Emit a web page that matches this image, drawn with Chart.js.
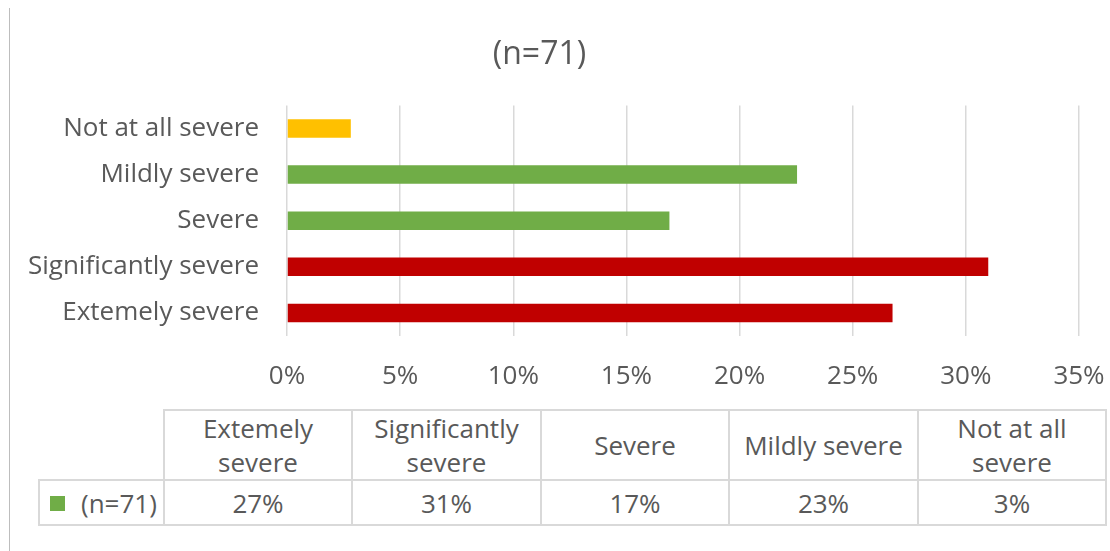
<!DOCTYPE html>
<html>
<head>
<meta charset="utf-8">
<script src="https://cdn.jsdelivr.net/npm/chart.js@4.4.1/dist/chart.umd.min.js"></script>
<style>
  html, body { margin: 0; padding: 0; background: #ffffff; }
  #wrap { position: relative; width: 1110px; height: 551px; overflow: hidden; background: #fff;
          font-family: 'Segoe UI', 'Open Sans', sans-serif; color: #595959; }
  #frame { position: absolute; left: 9px; top: 8px; width: 1px; height: 543px; background: #bdbdbd; }
  #chartBox { position: absolute; left: 0; top: 0; width: 1110px; height: 400px; }
  #tbl { position: absolute; left: 38px; top: 409px; border-collapse: collapse; table-layout: fixed;
         font-size: 26px; color: #595959; }
  #tbl td { border: 2px solid #d9d9d9; text-align: center; vertical-align: middle; padding: 0 4px;
            line-height: 34px; }
  #tbl tr.head td { height: 68px; }
  #tbl tr.data td { height: 43px; }
  #tbl td.corner { border-top: none; border-left: none; }
  #tbl td.legend { text-align: left; padding-left: 10px; white-space: nowrap; }
  .sw { display: inline-block; width: 15px; height: 15px; background: #70AD47; margin-right: 16px;
        vertical-align: middle; position: relative; top: -2px; }
</style>
</head>
<body>
<div id="wrap">
  <div id="frame"></div>
  <div id="chartBox"><canvas id="c" width="1110" height="400"></canvas></div>
  <table id="tbl"></table>
</div>
<script>
// ---- data ----
const title = "(n=71)";
const categories = ["Extemely severe", "Significantly severe", "Severe", "Mildly severe", "Not at all severe"];
const tableHeaders = [["Extemely", "severe"], ["Significantly", "severe"], ["Severe"], ["Mildly severe"], ["Not at all", "severe"]];
const seriesName = "(n=71)";
const values = [26.76, 30.99, 16.90, 22.54, 2.82];
const xTickMin = 0;
const xTickMax = 35;
const xTickStep = 5;

// ---- styles ----
const barColors = ["#C00000", "#C00000", "#70AD47", "#70AD47", "#FFC000"];
const textColor = "#595959";
const gridColor = "#d9d9d9";
const fontFamily = "'Segoe UI', 'Open Sans', sans-serif";

Chart.defaults.font.family = fontFamily;
Chart.defaults.color = textColor;

new Chart(document.getElementById('c'), {
  type: 'bar',
  data: {
    labels: categories,
    datasets: [{
      label: seriesName,
      data: values,
      backgroundColor: barColors,
      borderWidth: 0,
      barPercentage: 0.4,
      categoryPercentage: 1.0
    }]
  },
  options: {
    indexAxis: 'y',
    responsive: false,
    animation: false,
    layout: { padding: { left: 0, right: 31, top: 0, bottom: 0 } },
    plugins: {
      legend: { display: false },
      tooltip: { enabled: false },
      title: {
        display: true,
        text: title,
        color: textColor,
        font: { size: 32, weight: 'normal', family: fontFamily },
        padding: { top: 36, bottom: 31 }
      }
    },
    scales: {
      x: {
        min: xTickMin,
        max: xTickMax,
        ticks: {
          stepSize: xTickStep,
          color: textColor,
          font: { size: 26 },
          padding: 25,
          callback: v => v + '%'
        },
        grid: { color: gridColor, lineWidth: 1.5, drawTicks: false },
        border: { display: false },
        afterFit: s => { s.height = 64; s.paddingLeft = 0; s.paddingRight = 0; }
      },
      y: {
        reverse: true,
        ticks: { color: textColor, font: { size: 26 }, padding: 28 },
        grid: { display: false, drawTicks: false },
        border: { display: false },
        afterFit: s => { s.width = 287; s.paddingTop = 0; s.paddingBottom = 0; }
      }
    }
  }
});

// ---- data table ----
const tbl = document.getElementById('tbl');
const colW = [125, 188, 189, 188, 189, 188];
let html = '<colgroup>' + colW.map(w => '<col style="width:' + w + 'px">').join('') + '</colgroup>';
html += '<tr class="head"><td class="corner"></td>' +
  tableHeaders.map(lines => '<td>' + lines.join('<br>') + '</td>').join('') + '</tr>';
html += '<tr class="data"><td class="legend"><span class="sw"></span>' + seriesName + '</td>' +
  values.map(v => '<td>' + Math.round(v) + '%</td>').join('') + '</tr>';
tbl.innerHTML = html;
</script>
</body>
</html>
